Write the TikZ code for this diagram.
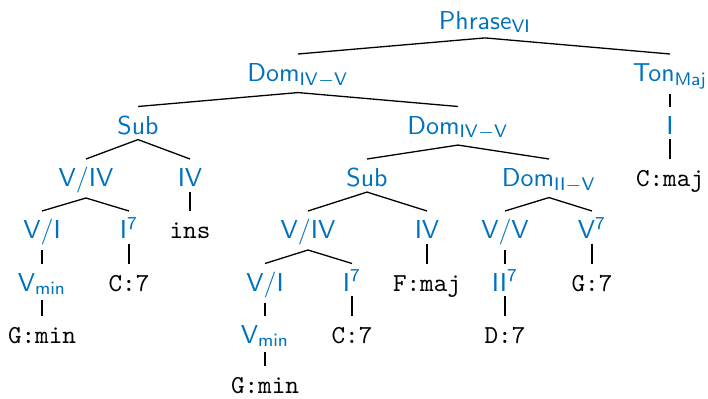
\documentclass[tikz,border=0pt]{standalone}
\definecolor{treeblue}{RGB}{0,114,189}
\tikzset{
  tnode/.style={anchor=base, scale=2.6, transform shape, inner sep=1.73bp, text height=8.65bp},
  nt/.style={tnode, text=treeblue, font=\fontsize{10pt}{12pt}\selectfont\sffamily},
  lf/.style={tnode, text=black, font=\fontsize{10pt}{12pt}\selectfont\ttfamily},
  br/.style={draw=black, line width=1.3bp}
}
\begin{document}
\begin{tikzpicture}[x=1bp, y=-1bp]
\useasboundingbox (0,0) rectangle (708,398);
\node[nt] (phrase) at (485,29) {Phrase$_{\mathsf{VI}}$};
\node[nt] (dom1) at (298,81.5) {Dom$_{\mathsf{IV}-\mathsf{V}}$};
\node[nt] (ton) at (670,81.5) {Ton$_{\mathsf{Maj}}$};
\node[nt] (sub2) at (138,134) {Sub};
\node[nt] (dom2) at (458,134) {Dom$_{\mathsf{IV}-\mathsf{V}}$};
\node[nt] (tonI) at (670,134) {I};
\node[nt] (vIV3) at (86,186.5) {V/IV};
\node[nt] (IV3) at (190,186.5) {IV};
\node[nt] (sub3) at (367,186.5) {Sub};
\node[nt] (dom3) at (549,186.5) {Dom$_{\mathsf{II}-\mathsf{V}}$};
\node[lf] (cmaj) at (670,186.5) {C:maj};
\node[nt] (vIa) at (42,238.5) {V/I};
\node[nt] (I7a) at (129,238.5) {I$^{\mathsf{7}}$};
\node[lf] (ins) at (190,238.5) {ins};
\node[nt] (vIV4) at (308,238.5) {V/IV};
\node[nt] (IV4) at (427,238.5) {IV};
\node[nt] (vV) at (505,238.5) {V/V};
\node[nt] (V7) at (592,238.5) {V$^{\mathsf{7}}$};
\node[nt] (vmina) at (42,291) {V$_{\mathsf{min}}$};
\node[lf] (c7a) at (129,291) {C:7};
\node[nt] (vIb) at (265,291) {V/I};
\node[nt] (I7b) at (352,291) {I$^{\mathsf{7}}$};
\node[lf] (fmaj) at (427,291) {F:maj};
\node[nt] (II7) at (505,291) {II$^{\mathsf{7}}$};
\node[lf] (g7) at (592,291) {G:7};
\node[lf] (gmina) at (42,343) {G:min};
\node[nt] (vminb) at (265,343) {V$_{\mathsf{min}}$};
\node[lf] (c7b) at (352,343) {C:7};
\node[lf] (d7) at (505,343) {D:7};
\node[lf] (gminb) at (265,393) {G:min};
\foreach \p/\c in {phrase/dom1, phrase/ton, dom1/sub2, dom1/dom2, ton/tonI, tonI/cmaj,
  sub2/vIV3, sub2/IV3, dom2/sub3, dom2/dom3, vIV3/vIa, vIV3/I7a, IV3/ins,
  sub3/vIV4, sub3/IV4, dom3/vV, dom3/V7, vIa/vmina, I7a/c7a, vIV4/vIb, vIV4/I7b,
  IV4/fmaj, vV/II7, V7/g7, vmina/gmina, vIb/vminb, I7b/c7b, II7/d7, vminb/gminb}
  \draw[br] (\p.south) -- (\c.north);
\end{tikzpicture}
\end{document}
